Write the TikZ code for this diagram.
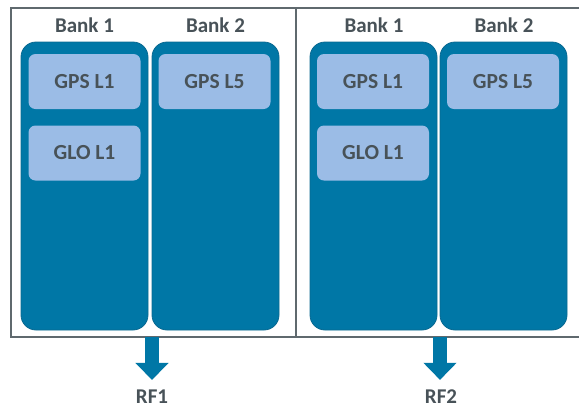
\documentclass[tikz,border=0pt]{standalone}
\usepackage{fontspec}
\setmainfont{Carlito}
\usetikzlibrary{arrows.meta}
\definecolor{colblue}{RGB}{0,119,166}
\definecolor{colborder}{RGB}{10,105,145}
\definecolor{boxblue}{RGB}{155,188,230}
\definecolor{txtgray}{RGB}{72,82,88}
\definecolor{framegray}{RGB}{95,105,110}
\tikzset{
  bankcol/.style={draw=colborder, line width=0.8pt, fill=colblue, rounded corners=15pt, inner sep=0pt, minimum width=127pt, minimum height=288pt},
  sigbox/.style={fill=boxblue, rounded corners=7pt, inner sep=0pt, minimum width=112pt, minimum height=55pt, text=txtgray, font=\fontsize{21.5}{24}\selectfont\bfseries},
  banklabel/.style={text=txtgray, font=\fontsize{21}{24}\selectfont\bfseries, inner sep=0pt},
  rflabel/.style={text=txtgray, font=\fontsize{21}{24}\selectfont\bfseries, inner sep=0pt},
  framelinestyle/.style={draw=framegray, line width=1.3pt},
  rfarrow/.style={draw=colblue, line width=14pt, -{Triangle[width=32pt,length=17pt]}, shorten >=10pt}
}
\begin{document}
\begin{tikzpicture}[x=1pt,y=-1pt]
\useasboundingbox (0,0) rectangle (579,408);
% frame
\coordinate (ftr) at (579,8);
\coordinate (ftl) at (11,8);
\coordinate (fbl) at (11,337);
\coordinate (fbr) at (579,337);
\coordinate (dtop) at (296,8);
\coordinate (dbot) at (296,337);
\draw[framelinestyle] (ftr) -- (ftl) -- (fbl) -- (fbr);
\draw[framelinestyle] (dtop) -- (dbot);
% left panel
\node[banklabel] (lb1) at (84.5,25) {Bank 1};
\node[banklabel] (lb2) at (215.5,25) {Bank 2};
\node[bankcol] (lc1) at (84.5,186) {};
\node[bankcol] (lc2) at (215.5,186) {};
\node[sigbox] (lgps1) at (84.5,81.5) {GPS L1};
\node[sigbox] (lglo1) at (84.5,153) {GLO L1};
\node[sigbox] (lgps5) at (214.5,81.5) {GPS L5};
% right panel
\node[banklabel] (rb1) at (374,25) {Bank 1};
\node[banklabel] (rb2) at (504,25) {Bank 2};
\node[bankcol] (rc1) at (373.5,186) {};
\node[bankcol] (rc2) at (503.5,186) {};
\node[sigbox] (rgps1) at (373,81.5) {GPS L1};
\node[sigbox] (rglo1) at (373,153) {GLO L1};
\node[sigbox] (rgps5) at (503,81.5) {GPS L5};
% outputs
\node[rflabel] (rf1) at (152,397) {RF1};
\node[rflabel] (rf2) at (441,397) {RF2};
\coordinate (a1) at (152,337);
\coordinate (a2) at (440,337);
\draw[rfarrow] (a1) -- (a1 |- rf1.north);
\draw[rfarrow] (a2) -- (a2 |- rf2.north);
\end{tikzpicture}
\end{document}
